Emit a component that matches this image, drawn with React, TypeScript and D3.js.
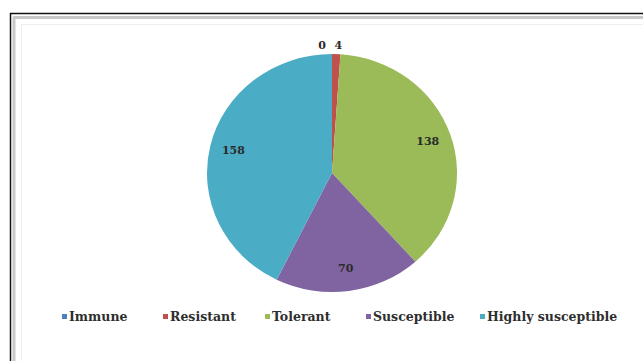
import React from "react";
import * as d3 from "d3";

const categories = ["Immune", "Resistant", "Tolerant", "Susceptible", "Highly susceptible"];
const values = [0, 4, 138, 70, 158];
const colors = ["#4F81BD", "#C0504D", "#9BBB59", "#8064A2", "#4BACC6"];

const W = 643;
const H = 361;
const cx = 332;
const cy = 173;
const rx = 125;
const ry = 119;

export default function App() {
  const pie = d3.pie<number>().sort(null).value((d) => d)(values);
  const arc = d3.arc<d3.PieArcDatum<number>>().innerRadius(0).outerRadius(rx);
  const legendX = [62, 163, 265, 366, 480];
  const font = "DejaVu Serif";

  return (
    <svg width={W} height={H} style={{ position: "absolute", left: 0, top: 0, background: "#fff" }}>
      <rect x={0} y={0} width={W} height={H} fill="#fff" />
      <line x1={10} y1={13.5} x2={W} y2={13.5} stroke="#111" strokeWidth={1.5} />
      <line x1={10.5} y1={13} x2={10.5} y2={H} stroke="#111" strokeWidth={1.5} />
      <line x1={13} y1={17.5} x2={W} y2={17.5} stroke="#c8c8c8" strokeWidth={3} />
      <line x1={14} y1={17} x2={14} y2={H} stroke="#c8c8c8" strokeWidth={3} />
      <line x1={21.5} y1={24} x2={21.5} y2={H} stroke="#eee" strokeWidth={1} />
      <line x1={21} y1={24.5} x2={W} y2={24.5} stroke="#eee" strokeWidth={1} />
      <g transform={`translate(${cx},${cy}) scale(1,${ry / rx})`}>
        {pie.map((d, i) => (
          <path key={i} d={arc(d) || ""} fill={colors[i]} />
        ))}
      </g>
      {pie.map((d, i) => {
        const mid = (d.startAngle + d.endAngle) / 2;
        const small = values[i] < 10;
        const k = small ? 1.07 : 0.81;
        let x = cx + Math.sin(mid) * rx * k;
        const y = cy - Math.cos(mid) * ry * k;
        let anchor: "middle" | "end" | "start" = "middle";
        if (small) {
          if (i === 0) { anchor = "end"; x -= 6; } else { anchor = "start"; x -= 2; }
        }
        return (
          <text key={i} x={x} y={y} textAnchor={anchor} dominantBaseline="middle"
            style={{ fontFamily: font }} fontSize={11} fontWeight="bold" fill="#2a2a2a">
            {values[i]}
          </text>
        );
      })}
      {categories.map((c, i) => (
        <g key={c}>
          <rect x={legendX[i]} y={314} width={5} height={5} fill={colors[i]} />
          <text x={legendX[i] + 7} y={317} dominantBaseline="middle" style={{ fontFamily: font }}
            fontSize={12.5} fontWeight="bold" fill="#2e2e2e">
            {c}
          </text>
        </g>
      ))}
    </svg>
  );
}
